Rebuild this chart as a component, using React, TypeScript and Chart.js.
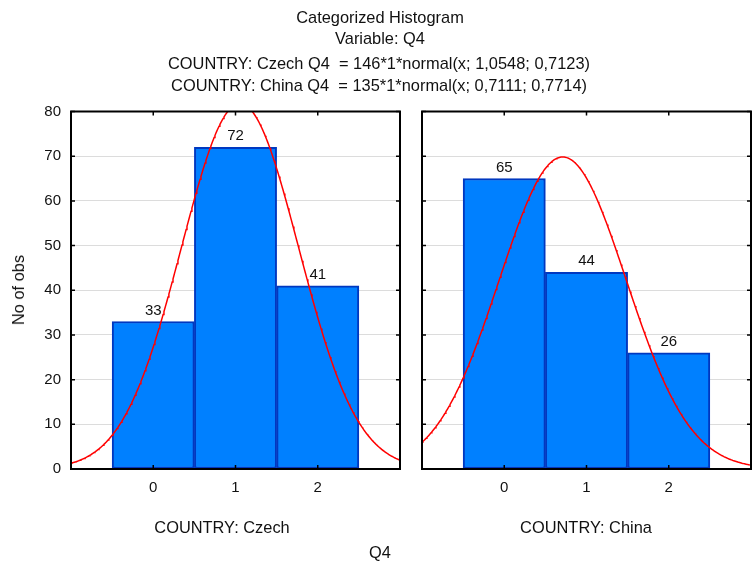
import React, { useEffect, useRef } from "react";
import { Chart, registerables } from "chart.js";

Chart.register(...registerables);

// ---- data ----
const binValues = [0, 1, 2];
const czechCounts = [33, 72, 41];
const chinaCounts = [65, 44, 26];
const czechFit = [146, 1.0548, 0.7123]; // n, mean, sd (from the fitted formula in the title)
const chinaFit = [135, 0.7111, 0.7714];
const yTickValues = [0, 10, 20, 30, 40, 50, 60, 70, 80];
const titleLines = [
  "Categorized Histogram",
  "Variable: Q4",
  "COUNTRY: Czech Q4  = 146*1*normal(x; 1,0548; 0,7123)",
  "COUNTRY: China Q4  = 135*1*normal(x; 0,7111; 0,7714)",
];
const panelTitles = ["COUNTRY: Czech", "COUNTRY: China"];
const xAxisTitle = "Q4";
const yAxisTitle = "No of obs";

const W = 756;
const H = 564;
const FONT = "'Liberation Sans', Arial, sans-serif";
const TICK_SIZE = 15;
const TEXT_SIZE = 16.4;

function fittedCurve(fit: number[]) {
  const [n, mean, sd] = fit;
  const pts: { x: number; y: number }[] = [];
  for (let i = 0; i <= 400; i++) {
    const x = -1 + (4 * i) / 400;
    const z = (x - mean) / sd;
    pts.push({ x, y: (n * 1 * Math.exp(-0.5 * z * z)) / (sd * Math.sqrt(2 * Math.PI)) });
  }
  return pts;
}

const framePlugin = {
  id: "frame",
  afterDatasetsDraw(chart: any) {
    const { ctx, chartArea: a, scales } = chart;
    ctx.save();
    ctx.strokeStyle = "#000";
    ctx.lineWidth = 2;
    ctx.strokeRect(a.left, a.top, a.right - a.left, a.bottom - a.top);
    ctx.lineWidth = 1.5;
    ctx.beginPath();
    const tl = 4;
    yTickValues.forEach((v) => {
      const y = scales.y.getPixelForValue(v);
      ctx.moveTo(a.left, y);
      ctx.lineTo(a.left + tl, y);
      ctx.moveTo(a.right, y);
      ctx.lineTo(a.right - tl, y);
    });
    binValues.forEach((v) => {
      const x = scales.x.getPixelForValue(v);
      ctx.moveTo(x, a.top);
      ctx.lineTo(x, a.top + tl);
      ctx.moveTo(x, a.bottom);
      ctx.lineTo(x, a.bottom - tl);
    });
    ctx.stroke();
    // bar value labels
    ctx.fillStyle = "#111";
    ctx.font = `${TICK_SIZE}px ${FONT}`;
    ctx.textAlign = "center";
    ctx.textBaseline = "alphabetic";
    chart.data.datasets.forEach((ds: any, di: number) => {
      if (ds.type !== "bar") return;
      const meta = chart.getDatasetMeta(di);
      meta.data.forEach((el: any, i: number) => {
        ctx.fillText(String(ds.data[i].y), el.x, el.y - 7);
      });
    });
    ctx.restore();
  },
};

function Panel({ counts, fit, area, showY }: { counts: number[]; fit: number[]; area: number[]; showY: boolean }) {
  const ref = useRef<HTMLCanvasElement>(null);
  useEffect(() => {
    const [left, right, top, bottom] = area;
    const chart = new Chart(ref.current as HTMLCanvasElement, {
      type: "bar",
      data: {
        datasets: [
          {
            type: "line",
            data: fittedCurve(fit),
            borderColor: "#ff0000",
            borderWidth: 1.5,
            pointRadius: 0,
            fill: false,
            tension: 0,
            order: 0,
          } as any,
          {
            type: "bar",
            data: binValues.map((b, i) => ({ x: b, y: counts[i] })),
            backgroundColor: "#0080ff",
            borderColor: "#0038c0",
            borderWidth: 2,
            borderSkipped: false,
            barPercentage: 1,
            categoryPercentage: 1,
            order: 1,
          } as any,
        ],
      },
      options: {
        responsive: false,
        animation: false,
        events: [],
        layout: { padding: { left: 0, right: W - right, top: top, bottom: 0 } },
        plugins: { legend: { display: false }, tooltip: { enabled: false }, title: { display: false } },
        scales: {
          x: {
            type: "linear",
            min: -1,
            max: 3,
            offset: false,
            afterBuildTicks: (s: any) => {
              s.ticks = binValues.map((v) => ({ value: v }));
            },
            afterFit: (s: any) => {
              s.height = H - bottom;
            },
            grid: { display: false, drawTicks: false, offset: false },
            border: { display: false },
            ticks: { color: "#111", padding: 10, font: { family: FONT, size: TICK_SIZE } },
          },
          y: {
            min: 0,
            max: 80,
            afterBuildTicks: (s: any) => {
              s.ticks = yTickValues.map((v) => ({ value: v }));
            },
            afterFit: (s: any) => {
              s.width = left;
            },
            grid: { color: "#dcdcdc", lineWidth: 1, drawTicks: false },
            border: { display: false },
            ticks: { display: showY, color: "#111", padding: 10, font: { family: FONT, size: TICK_SIZE } },
          },
        },
      } as any,
      plugins: [framePlugin],
    });
    return () => chart.destroy();
  }, []);
  return (
    <canvas
      ref={ref}
      width={W}
      height={H}
      style={{ position: "absolute", left: 0, top: 0, width: W, height: H }}
    />
  );
}

function Label({ text, x, y, rotate }: { text: string; x: number; y: number; rotate?: boolean }) {
  return (
    <div
      style={{
        position: "absolute",
        left: x,
        top: y,
        transform: `translate(-50%, -50%)${rotate ? " rotate(-90deg)" : ""}`,
        whiteSpace: "pre",
        font: `${TEXT_SIZE}px ${FONT}`,
        color: "#111",
        lineHeight: "18px",
      }}
    >
      {text}
    </div>
  );
}

export default function App() {
  return (
    <div style={{ position: "fixed", left: 0, top: 0, width: W, height: H, background: "#fff", overflow: "hidden" }}>
      <Panel counts={czechCounts} fit={czechFit} area={[71, 400, 111.5, 469]} showY={true} />
      <Panel counts={chinaCounts} fit={chinaFit} area={[422, 751, 111.5, 469]} showY={false} />
      <Label text={titleLines[0]} x={380} y={17} />
      <Label text={titleLines[1]} x={380} y={38} />
      <Label text={titleLines[2]} x={379} y={63} />
      <Label text={titleLines[3]} x={379} y={85} />
      <Label text={yAxisTitle} x={18} y={290} rotate />
      <Label text={panelTitles[0]} x={222} y={527} />
      <Label text={panelTitles[1]} x={586} y={527} />
      <Label text={xAxisTitle} x={380} y={552} />
    </div>
  );
}
